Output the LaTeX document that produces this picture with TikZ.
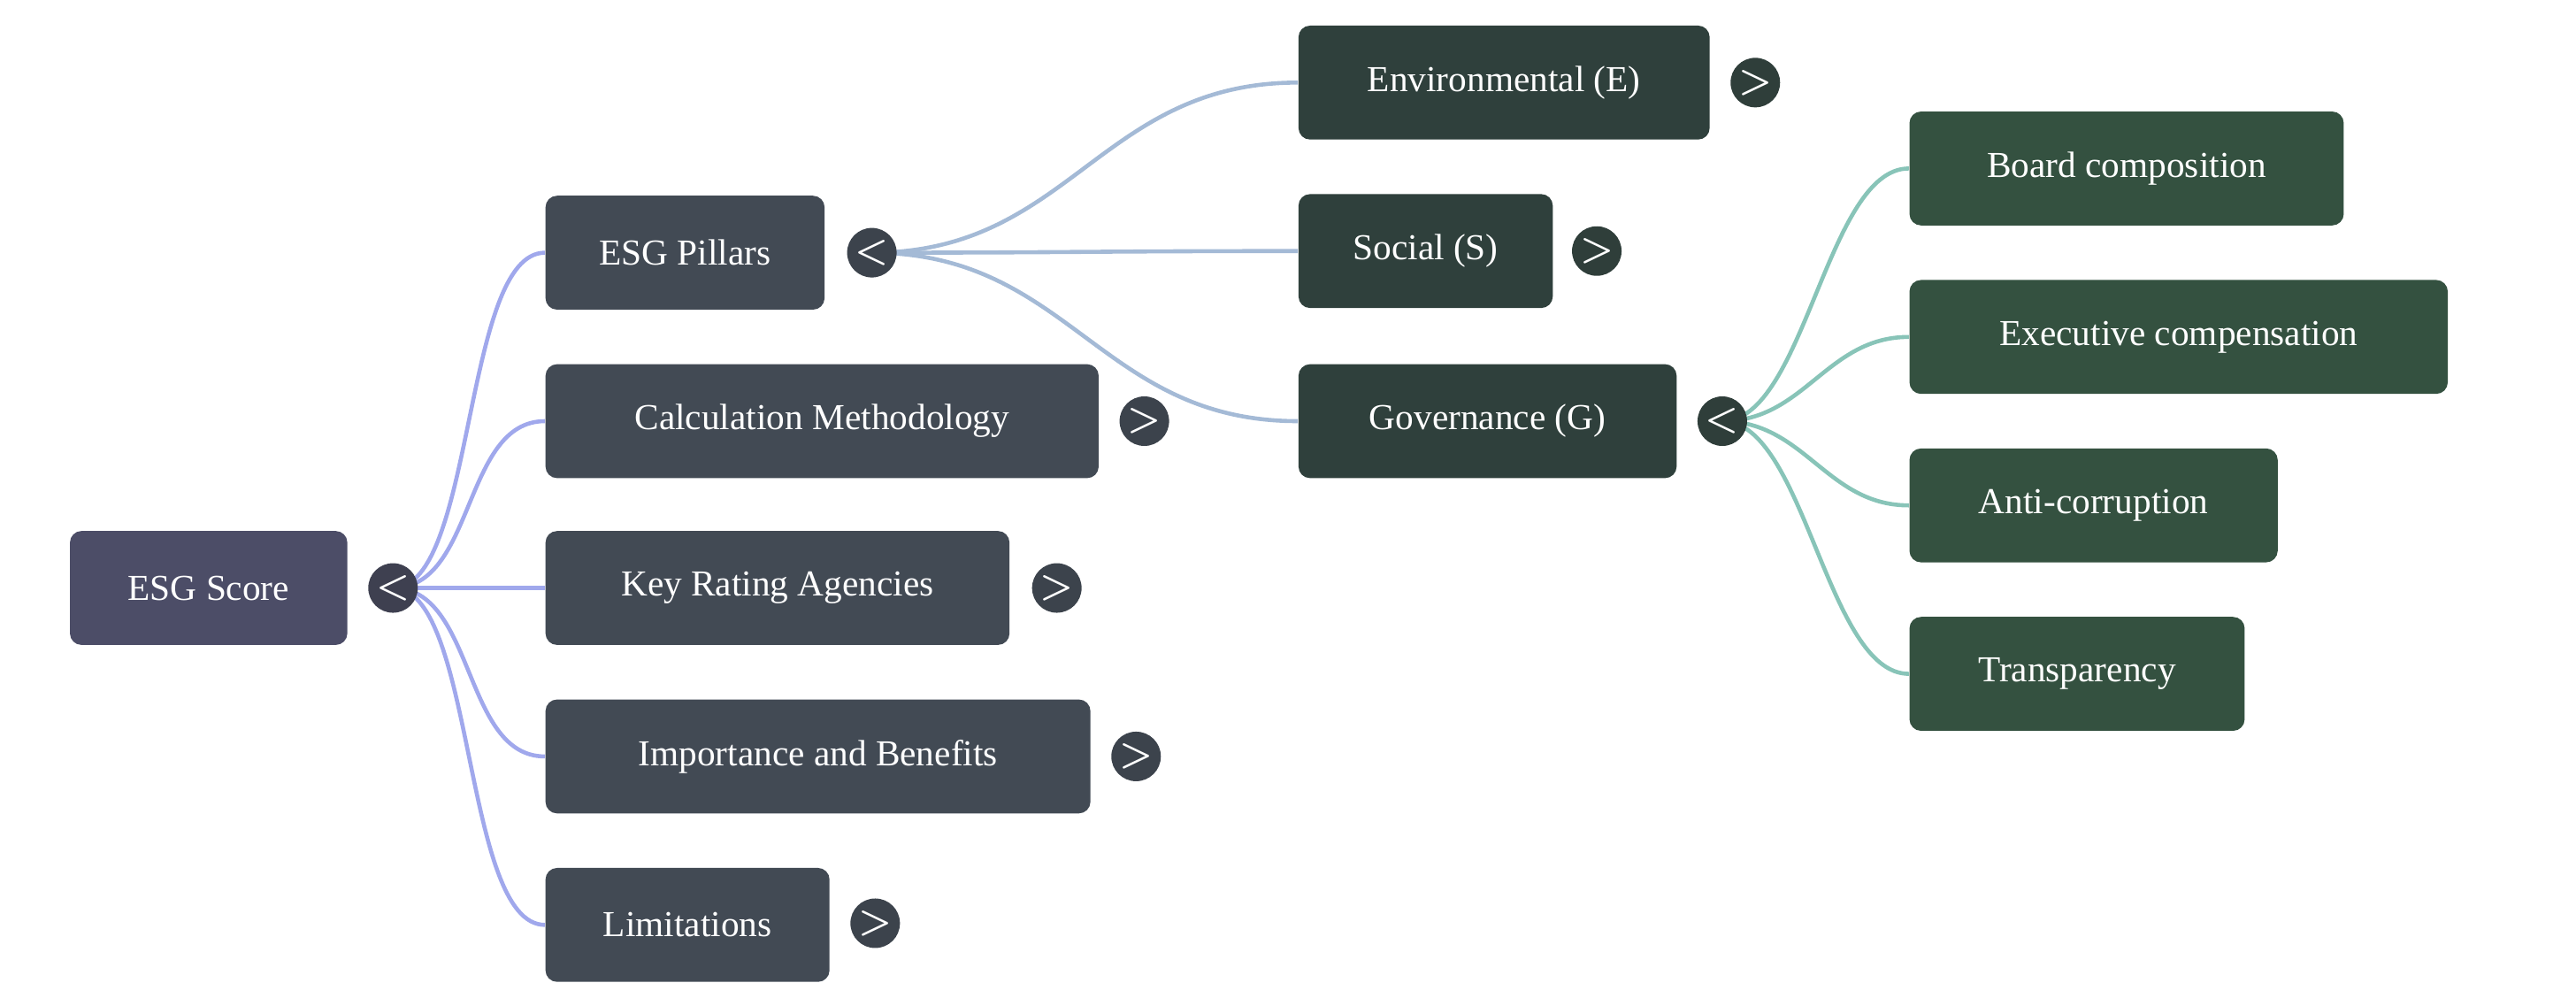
\documentclass[tikz,border=0pt]{standalone}
\usepackage{fontspec}
\setmainfont{Liberation Serif}
\begin{document}
\begin{tikzpicture}[x=0.02cm,y=-0.02cm,
 box/.style={rounded corners=4pt,minimum height=1.38cm,inner xsep=0.44cm,anchor=west,text=white,font=\fontsize{12.6}{14}\selectfont,align=left},
 root/.style={box,fill={rgb,255:red,76;green,77;blue,103}},
 lvA/.style={box,fill={rgb,255:red,66;green,74;blue,84}},
 lvB/.style={box,fill={rgb,255:red,47;green,64;blue,60}},
 lvC/.style={box,fill={rgb,255:red,52;green,81;blue,64}},
 tog/.style={circle,minimum size=0.6cm,inner sep=0pt,text=white,font=\sffamily\fontsize{13}{13}\selectfont\bfseries},
 tA/.style={tog,fill={rgb,255:red,62;green,64;blue,80}},
 tB/.style={tog,fill={rgb,255:red,60;green,67;blue,76}},
 tC/.style={tog,fill={rgb,255:red,47;green,62;blue,58}},
 eA/.style={draw={rgb,255:red,160;green,168;blue,236},line width=1.4pt},
 eB/.style={draw={rgb,255:red,164;green,186;blue,214},line width=1.4pt},
 eC/.style={draw={rgb,255:red,136;green,196;blue,184},line width=1.4pt}]
\useasboundingbox (0,0) rectangle (1560,609);
\node[root,minimum width=168*0.02cm] (r) at (42,356) {ESG Score};
\node[lvA,minimum width=169*0.02cm] (p) at (330,153) {ESG Pillars};
\node[lvA,minimum width=335*0.02cm] (m) at (330,255) {Calculation Methodology};
\node[lvA,minimum width=281*0.02cm] (k) at (330,356) {Key Rating Agencies};
\node[lvA,minimum width=330*0.02cm] (i) at (330,458) {Importance and Benefits};
\node[lvA,minimum width=172*0.02cm] (l) at (330,560) {Limitations};
\node[lvB,minimum width=249*0.02cm] (e) at (786,50) {Environmental (E)};
\node[lvB,minimum width=154*0.02cm] (s) at (786,152) {Social (S)};
\node[lvB,minimum width=229*0.02cm] (g) at (786,255) {Governance (G)};
\node[lvC,minimum width=263*0.02cm] (b) at (1156,102) {Board composition};
\node[lvC,minimum width=326*0.02cm] (x) at (1156,204) {Executive compensation};
\node[lvC,minimum width=223*0.02cm] (a) at (1156,306) {Anti-corruption};
\node[lvC,minimum width=203*0.02cm] (t) at (1156,408) {Transparency};
\coordinate (cr) at (238,356);
\coordinate (cp) at (528,153);
\coordinate (cg) at (1043,255);
\foreach \n in {p,m,k,i,l} \draw[eA] (cr) .. controls +(50,0) and +(-50,0) .. (\n.west);
\foreach \n in {e,s,g} \draw[eB] (cp) .. controls +(120,0) and +(-120,0) .. (\n.west);
\foreach \n in {b,x,a,t} \draw[eC] (cg) .. controls +(50,0) and +(-50,0) .. (\n.west);
\node[tA] (tr) at (cr) {<};
\node[tB] (tp) at (cp) {<};
\node[tB] (tm) at (693,255) {>};
\node[tB] (tk) at (640,356) {>};
\node[tB] (ti) at (688,458) {>};
\node[tB] (tl) at (530,559) {>};
\node[tC] (te) at (1063,50) {>};
\node[tC] (ts) at (967,152) {>};
\node[tC] (tg) at (cg) {<};
\end{tikzpicture}
\end{document}
